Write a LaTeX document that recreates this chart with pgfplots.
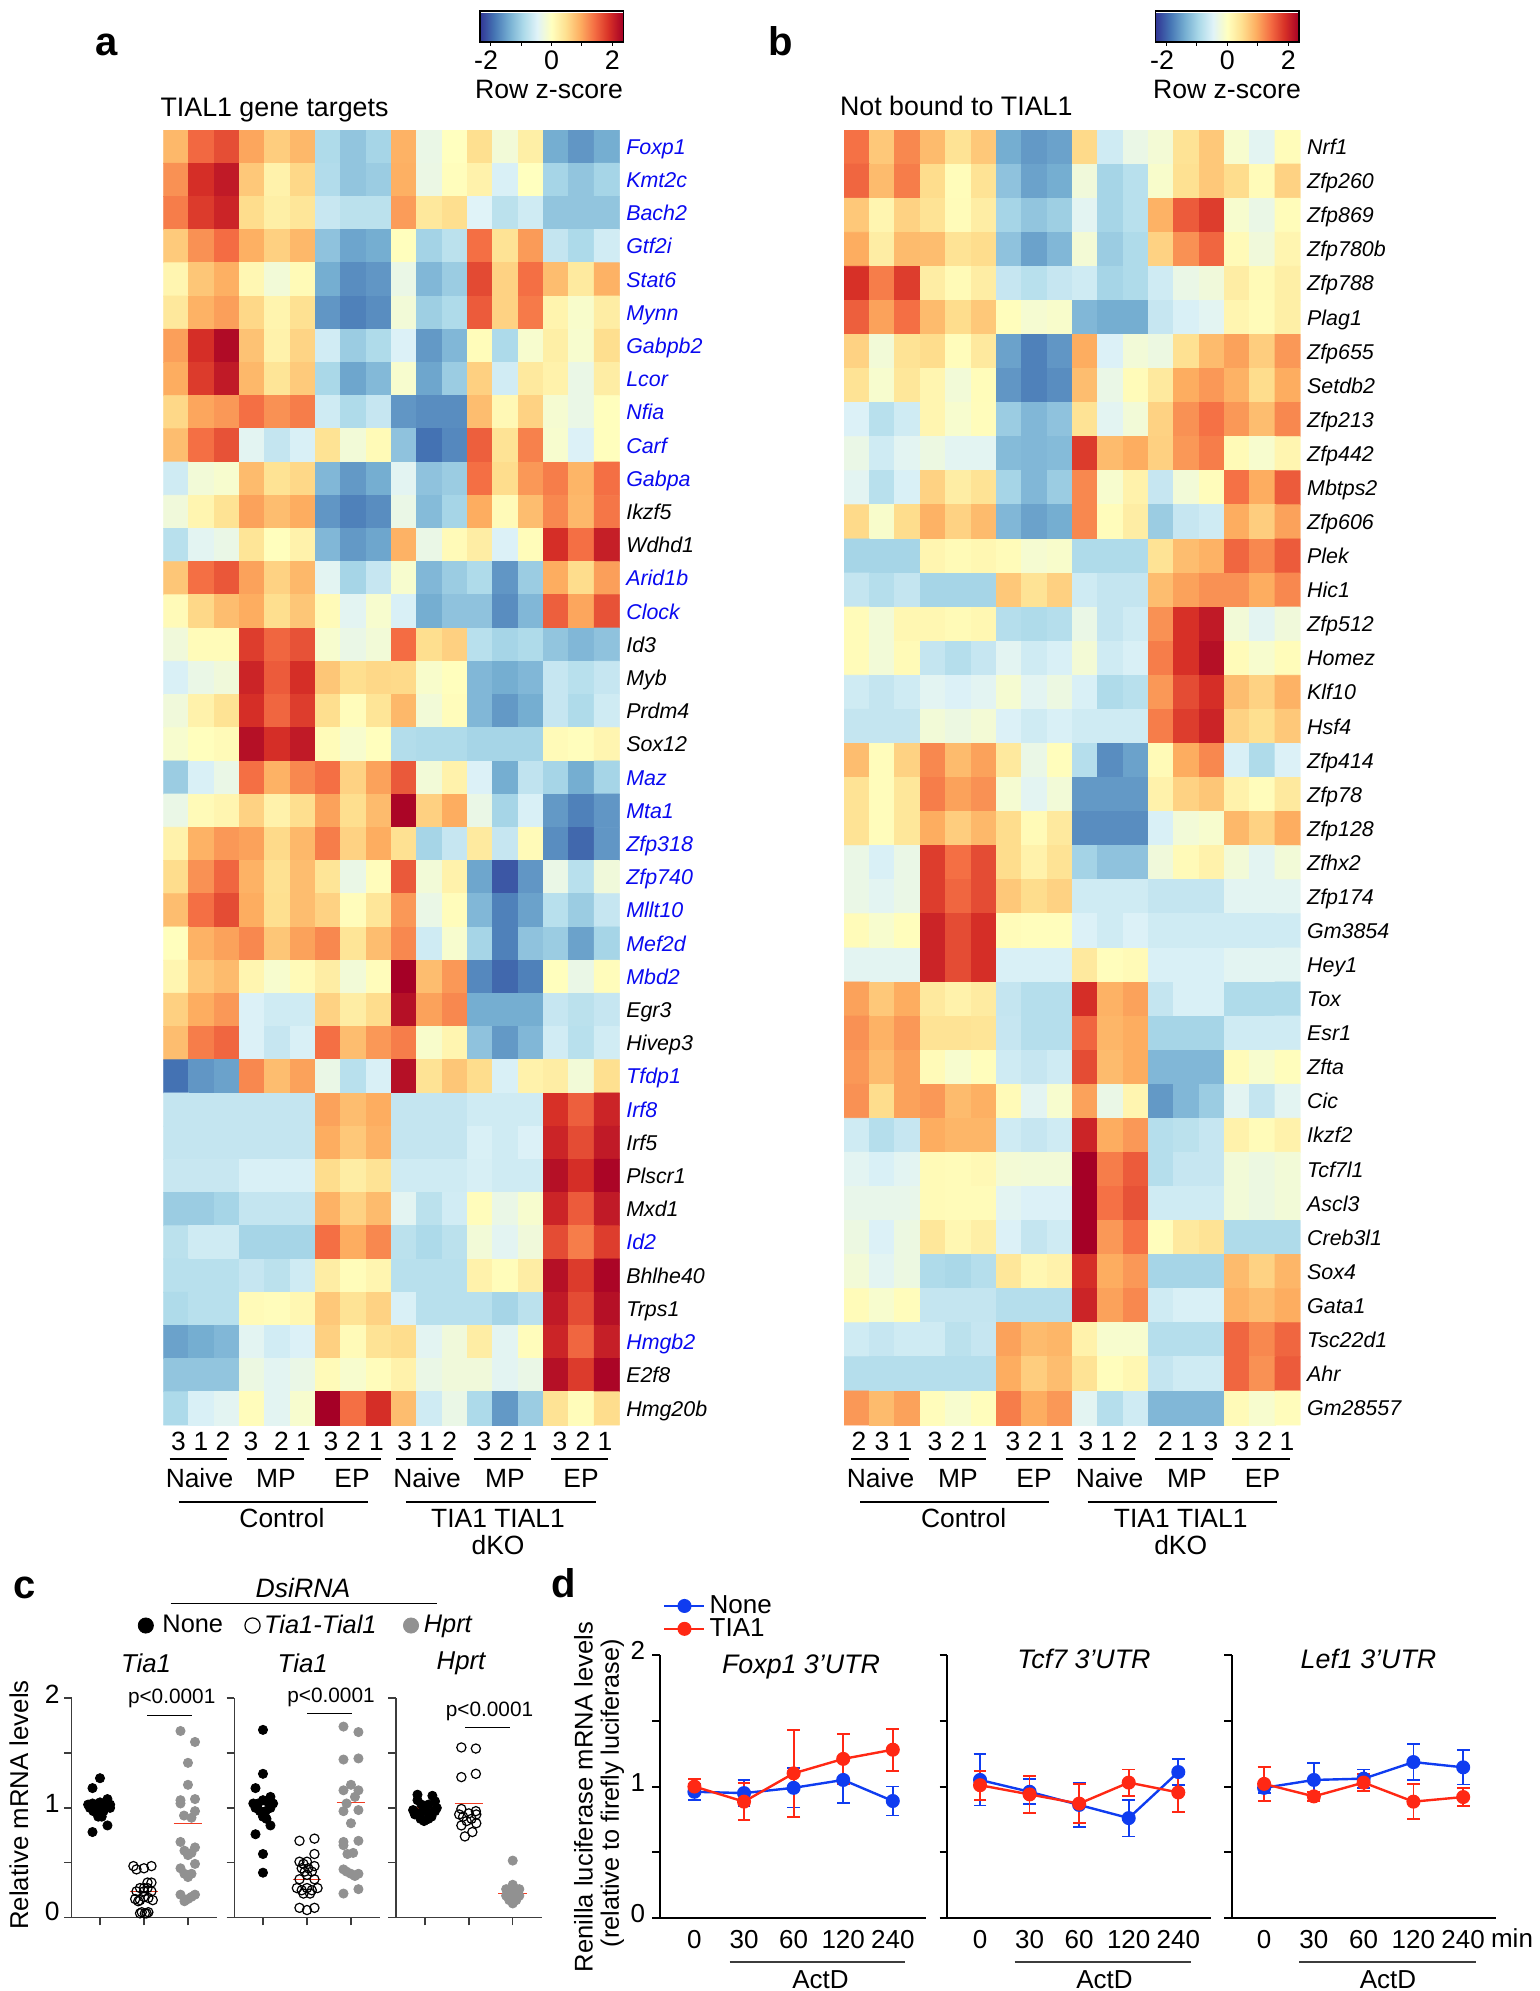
\documentclass[border=0pt]{standalone}
\usepackage{pgfplots}
\pgfplotsset{compat=1.18}
\usepackage{fontspec}
\setmainfont{Liberation Sans}
\definecolor{genblue}{RGB}{10,10,240}
\definecolor{axgray}{RGB}{60,60,60}
\definecolor{dotgray}{RGB}{145,145,145}
\definecolor{meanred}{RGB}{240,60,35}
\definecolor{dblue}{RGB}{15,60,240}
\definecolor{dred}{RGB}{255,40,20}
\newcommand{\B}[1]{\textcolor{genblue}{#1}}
\newcommand{\fs}[1]{\fontsize{#1}{#1}\selectfont}
\pgfplotsset{
  colormap={rdylbu}{rgb255=(49,54,149) rgb255=(69,117,180) rgb255=(116,173,209) rgb255=(171,217,233) rgb255=(224,243,248) rgb255=(255,255,191) rgb255=(254,224,144) rgb255=(253,174,97) rgb255=(244,109,67) rgb255=(215,48,39) rgb255=(165,0,38)},
  heat/.style={scale only axis, width=228.1pt, height=647.5pt, y dir=reverse,
    enlargelimits=false, xmin=-0.5, xmax=17.5, clip=true,
    colormap name=rdylbu, point meta min=-2.35, point meta max=2.35,
    axis line style={draw=none}, tick style={draw=none}, major tick length=0pt,
    xtick=\empty, yticklabel pos=right,
    yticklabel style={anchor=west, inner xsep=0pt, xshift=3.2pt, font=\fs{10.7}\itshape, text height=8pt, text depth=.4pt},
    colorbar horizontal,
    colorbar style={anchor=south west, width=71.6pt, height=15.5pt,
      scale only axis, xtick={-2,-1,0,1,2}, xticklabels={\llap{-}2,,0,,2}, xtick pos=bottom, tick align=outside,
      major tick length=2pt, tick style={draw=black, line width=.5pt},
      axis line style={draw=black, line width=.6pt},
      xticklabel style={font=\fs{13.4}, yshift=1pt}}},
  cax/.style={scale only axis, height=109.85pt, ymin=0, ymax=2, clip=false,
    axis x line=bottom, axis y line=left, axis line style={-, draw=axgray, line width=.7pt},
    tick style={draw=axgray, line width=.7pt}, tick align=outside, major tick length=3.8pt,
    ytick={0,0.5,1,1.5,2}, xtick={1,2,3}, xticklabels={,,}, yticklabels={,,,,},
    yticklabel style={font=\fs{13.2}, yshift=2pt, xshift=1.2pt}},
  dNone/.style={only marks, mark=*, mark size=2.3pt, color=black},
  dOpen/.style={only marks, mark=o, mark size=2.3pt, color=black, mark options={line width=.6pt}},
  dHprt/.style={only marks, mark=*, mark size=2.3pt, color=dotgray},
  mean/.style={color=meanred, line width=.7pt, no marks, forget plot},
  dax/.style={scale only axis, height=131.5pt, ymin=0, ymax=2, xmax=4.66, clip=false,
    axis x line=bottom, axis y line=left, axis line style={-, draw=black, line width=1pt},
    ytick={0,0.5,1,1.5,2}, yticklabels={,,,,}, xtick={0,1,2,3,4}, xticklabels={0,30,60,120,240},
    tick align=outside, major tick length=3.8pt, ytick style={draw=black, line width=1pt}, xtick style={draw=none},
    xticklabel style={font=\fs{13}, yshift=1pt}, yticklabel style={font=\fs{13}, yshift=2.2pt}},
  sNone/.style={color=dblue, line width=1.2pt, mark=*, mark size=2.9pt,
    error bars/.cd, y dir=both, y explicit, error bar style={line width=.9pt, color=dblue},
    error mark options={rotate=90, mark size=3.2pt, line width=.9pt, color=dblue}},
  sTia/.style={color=dred, line width=1.2pt, mark=*, mark size=2.9pt,
    error bars/.cd, y dir=both, y explicit, error bar style={line width=.9pt, color=dred},
    error mark options={rotate=90, mark size=3.2pt, line width=.9pt, color=dred}},
}
\begin{document}
\begin{tikzpicture}[x=0.5pt,y=-0.5pt]
\useasboundingbox (0,0) rectangle (1539,1991);
\coordinate (hA) at (163.3,130);
\coordinate (hB) at (844.2,130);
\coordinate (c1) at (71.7,1917.7);
\coordinate (c2) at (234.3,1917.7);
\coordinate (c3) at (396,1917.7);
\coordinate (d1) at (659.7,1918);
\coordinate (d2) at (947.3,1918);
\coordinate (d3) at (1231.6,1918);
% ---------- heatmap a
\begin{axis}[heat, at={(hA)}, anchor=north west, ymin=-0.5, ymax=38.5,
  colorbar style={at={(0.694,1.068)}},
  ytick={0,...,38},
  yticklabels={\B{Foxp1},\B{Kmt2c},\B{Bach2},\B{Gtf2i},\B{Stat6},\B{Mynn},\B{Gabpb2},\B{Lcor},\B{Nfia},\B{Carf},\B{Gabpa},Ikzf5,Wdhd1,\B{Arid1b},\B{Clock},Id3,Myb,Prdm4,Sox12,\B{Maz},\B{Mta1},\B{Zfp318},\B{Zfp740},\B{Mllt10},\B{Mef2d},\B{Mbd2},Egr3,Hivep3,\B{Tfdp1},\B{Irf8},Irf5,Plscr1,Mxd1,\B{Id2},Bhlhe40,Trps1,\B{Hmgb2},E2f8,Hmg20b}]
\addplot[matrix plot*, mesh/cols=18, point meta=explicit]
 table[row sep=crcr, x expr={\coordindex-18*floor((\coordindex+0.5)/18)}, y expr={floor((\coordindex+0.5)/18)}, meta=z] {
z\\
.85\\1.45\\1.65\\1.0\\.65\\.85\\-.9\\-1.15\\-.98\\.9\\-.32\\.0\\.47\\-.2\\.25\\-1.4\\-1.6\\-1.4\\
1.15\\1.9\\2.1\\.7\\.2\\.55\\-.88\\-1.15\\-1.08\\.92\\-.3\\.03\\.2\\-.53\\0\\-.98\\-1.15\\-.98\\
1.3\\1.8\\2.0\\.5\\.25\\.38\\-.68\\-.8\\-.8\\1.07\\.35\\.48\\-.47\\-.8\\-.62\\-1.15\\-1.15\\-1.15\\
.68\\1.15\\1.42\\.92\\.62\\.85\\-1.18\\-1.48\\-1.4\\.02\\-1.0\\-.8\\1.4\\.42\\1.08\\-.72\\-.92\\-.6\\
.15\\.72\\.92\\.12\\-.2\\.08\\-1.4\\-1.68\\-1.6\\-.32\\-1.3\\-1.08\\1.68\\.6\\1.4\\.8\\.32\\.9\\
.35\\.9\\1.05\\.55\\.17\\.45\\-1.6\\-1.78\\-1.68\\-.2\\-1.05\\-.9\\1.55\\.6\\1.32\\.17\\-.1\\.27\\
1.05\\1.9\\2.25\\.75\\.2\\.58\\-.6\\-1.08\\-.9\\-.5\\-1.58\\-1.3\\.05\\-.92\\-.12\\.25\\-.12\\.48\\
.95\\1.8\\2.1\\.85\\.4\\.68\\-.95\\-1.47\\-1.28\\-.12\\-1.47\\-1.08\\.62\\-.6\\.33\\.2\\-.32\\.27\\
.55\\1.0\\1.1\\1.4\\1.15\\1.3\\-.62\\-.9\\-.7\\-1.6\\-1.68\\-1.68\\.8\\.1\\.6\\-.15\\-.32\\.02\\
.8\\1.4\\1.62\\-.42\\-.72\\-.53\\.43\\-.2\\.08\\-1.18\\-1.9\\-1.72\\1.52\\.42\\1.27\\-.12\\-.5\\.02\\
-.62\\-.2\\-.12\\.82\\.43\\.55\\-1.3\\-1.58\\-1.4\\-.42\\-1.18\\-1.08\\1.4\\.5\\1.1\\1.3\\.88\\1.4\\
-.22\\.15\\.43\\1.03\\.8\\.95\\-1.6\\-1.78\\-1.68\\-.32\\-1.26\\-.98\\.95\\.07\\.8\\1.22\\.85\\1.35\\
-.82\\-.42\\-.32\\.4\\.02\\.2\\-1.3\\-1.58\\-1.47\\.9\\-.32\\.07\\.27\\-.5\\.05\\1.9\\1.4\\2.05\\
.72\\1.4\\1.58\\1.03\\.6\\.85\\-.42\\-.98\\-.7\\-.12\\-1.3\\-1.08\\-.9\\-1.6\\-1.08\\.95\\.5\\1.05\\
.07\\.55\\.8\\.95\\.48\\.72\\.07\\-.42\\-.12\\-.53\\-1.4\\-1.18\\-1.18\\-1.68\\-1.3\\1.52\\1.0\\1.62\\
-.22\\.06\\.06\\1.78\\1.47\\1.62\\-.12\\-.32\\-.2\\1.42\\.48\\.62\\-.82\\-.98\\-.9\\-1.15\\-1.3\\-1.18\\
-.53\\-.32\\-.22\\2.0\\1.55\\1.9\\.72\\.48\\.55\\.53\\-.1\\.02\\-1.3\\-1.4\\-1.3\\-.7\\-.82\\-.7\\
-.22\\.2\\.43\\1.9\\1.47\\1.78\\.48\\.04\\.4\\.85\\-.2\\.04\\-1.3\\-1.58\\-1.4\\-.7\\-.9\\-.62\\
-.12\\.02\\.07\\2.2\\1.9\\2.1\\.06\\-.12\\.02\\-.87\\-.9\\-.9\\-.98\\-.98\\-.98\\.07\\.03\\.15\\
-1.08\\-.53\\-.32\\1.4\\.9\\1.22\\1.4\\.6\\1.03\\1.57\\-.2\\.2\\-.5\\-1.4\\-.75\\-.98\\-1.4\\-.98\\
-.32\\.07\\.15\\.6\\.2\\.48\\1.03\\.48\\.82\\2.3\\.62\\.95\\-.32\\-.98\\-.53\\-1.58\\-1.78\\-1.6\\
.2\\.9\\1.1\\1.03\\.53\\.85\\1.3\\.6\\.95\\.45\\-.98\\-.7\\.32\\-.7\\.07\\-1.68\\-1.98\\-1.6\\
.5\\1.15\\1.47\\.9\\.45\\.8\\.4\\-.32\\.04\\1.57\\-.2\\.2\\-1.47\\-2.1\\-1.6\\-.32\\-.82\\-.22\\
.8\\1.4\\1.67\\.95\\.47\\.8\\.6\\.04\\.38\\1.1\\-.32\\.04\\-1.3\\-1.78\\-1.5\\-.82\\-1.08\\-.7\\
.02\\.9\\1.03\\1.22\\.72\\1.03\\1.22\\.4\\.8\\1.22\\-.62\\-.12\\-.98\\-1.78\\-1.18\\-1.08\\-1.5\\-.98\\
.15\\.7\\.82\\.15\\-.12\\.07\\.27\\-.2\\.04\\2.35\\.8\\1.1\\-1.72\\-1.98\\-1.78\\.02\\-.32\\.04\\
.62\\.95\\1.1\\-.5\\-.62\\-.62\\.6\\.27\\.5\\2.2\\1.03\\1.22\\-1.4\\-1.4\\-1.4\\-.7\\-.8\\-.7\\
.8\\1.3\\1.47\\-.5\\-.7\\-.53\\1.4\\.8\\1.1\\1.3\\-.1\\.15\\-1.18\\-1.58\\-1.3\\-.6\\-.82\\-.6\\
-1.9\\-1.6\\-1.5\\1.22\\.8\\1.03\\-.32\\-.82\\-.53\\2.2\\.42\\.72\\.5\\-.53\\.2\\.27\\-.2\\.47\\
-.72\\-.72\\-.72\\-.72\\-.72\\-.72\\1.03\\.8\\.95\\-.72\\-.72\\-.72\\-.62\\-.62\\-.62\\1.88\\1.52\\2.0\\
-.72\\-.72\\-.72\\-.72\\-.72\\-.72\\.95\\.7\\.9\\-.72\\-.72\\-.72\\-.53\\-.62\\-.5\\2.0\\1.67\\2.1\\
-.68\\-.68\\-.68\\-.53\\-.53\\-.53\\.5\\.27\\.42\\-.62\\-.62\\-.62\\-.55\\-.62\\-.62\\2.2\\1.9\\2.3\\
-1.08\\-1.08\\-.98\\-.72\\-.72\\-.72\\.9\\.6\\.82\\-.42\\-.8\\-.6\\.04\\-.32\\-.12\\2.0\\1.55\\2.1\\
-.8\\-.62\\-.62\\-.98\\-.98\\-.98\\1.4\\.95\\1.22\\-.8\\-.92\\-.8\\-.2\\-.42\\-.22\\1.67\\1.3\\1.78\\
-.82\\-.82\\-.82\\-.7\\-.8\\-.62\\.27\\.05\\.15\\-.82\\-.82\\-.82\\.2\\.05\\.27\\2.2\\1.8\\2.3\\
-.9\\-.82\\-.82\\.07\\.04\\.13\\.7\\.42\\.6\\-.53\\-.82\\-.82\\-.82\\-.98\\-.8\\2.1\\1.67\\2.2\\
-1.5\\-1.4\\-1.3\\-.42\\-.6\\-.5\\.62\\.07\\.42\\.5\\-.42\\-.22\\.27\\-.42\\.04\\2.0\\1.47\\2.05\\
-1.15\\-1.15\\-1.15\\-.28\\-.42\\-.32\\.07\\-.12\\.04\\.2\\-.32\\-.22\\-.22\\-.42\\-.32\\2.2\\1.8\\2.3\\
-.92\\-.53\\-.42\\.04\\-.42\\-.12\\2.35\\1.4\\1.9\\.8\\-.62\\-.32\\-.92\\-1.58\\-1.08\\.42\\.05\\.5\\
};
\end{axis}
% ---------- heatmap b
\begin{axis}[heat, at={(hB)}, anchor=north west, ymin=-0.5, ymax=37.5,
  colorbar style={at={(0.683,1.068)}},
  ytick={0,...,37},
  yticklabels={Nrf1,Zfp260,Zfp869,Zfp780b,Zfp788,Plag1,Zfp655,Setdb2,Zfp213,Zfp442,Mbtps2,Zfp606,Plek,Hic1,Zfp512,Homez,Klf10,Hsf4,Zfp414,Zfp78,Zfp128,Zfhx2,Zfp174,Gm3854,Hey1,Tox,Esr1,Zfta,Cic,Ikzf2,Tcf7l1,Ascl3,Creb3l1,Sox4,Gata1,Tsc22d1,Ahr,Gm28557}]
\addplot[matrix plot*, mesh/cols=18, point meta=explicit]
 table[row sep=crcr, x expr={\coordindex-18*floor((\coordindex+0.5)/18)}, y expr={floor((\coordindex+0.5)/18)}, meta=z] {
z\\
1.38\\.7\\1.22\\.82\\.42\\.7\\-1.4\\-1.58\\-1.5\\.53\\-.62\\-.32\\-.18\\.42\\.7\\-.12\\-.42\\.05\\
1.47\\.82\\1.3\\.5\\.05\\.42\\-1.18\\-1.5\\-1.4\\-.22\\-.98\\-.82\\-.1\\.45\\.7\\.5\\.06\\.6\\
.7\\.15\\.6\\.42\\.06\\.27\\-.98\\-1.15\\-1.05\\-.42\\-.98\\-.82\\.9\\1.55\\1.78\\-.12\\-.32\\.05\\
.95\\.27\\.82\\.8\\.42\\.5\\-1.18\\-1.5\\-1.3\\-.18\\-1.08\\-.9\\.6\\1.15\\1.47\\.07\\-.22\\.15\\
1.88\\1.3\\1.78\\.27\\.08\\.27\\-.7\\-.82\\-.7\\-.62\\-.98\\-.9\\-.62\\-.32\\-.22\\.27\\.08\\.25\\
1.52\\1.03\\1.4\\.82\\.5\\.7\\.03\\-.15\\-.1\\-1.3\\-1.4\\-1.4\\-.7\\-.53\\-.42\\.15\\.06\\.25\\
.6\\-.2\\.42\\.5\\.04\\.33\\-1.5\\-1.78\\-1.6\\.95\\-.5\\-.2\\-.28\\.45\\.82\\1.03\\.65\\1.1\\
.42\\-.12\\.37\\.15\\-.2\\.05\\-1.6\\-1.78\\-1.68\\.8\\-.32\\.06\\.33\\.95\\1.1\\.9\\.5\\.95\\
-.5\\-.82\\-.62\\.15\\-.12\\.04\\-1.08\\-1.3\\-1.18\\.42\\-.42\\-.2\\.6\\1.15\\1.38\\1.1\\.8\\1.22\\
-.32\\-.62\\-.42\\-.28\\-.42\\-.42\\-1.26\\-1.3\\-1.26\\1.8\\.82\\.95\\.62\\1.1\\1.3\\.08\\-.12\\.15\\
-.42\\-.82\\-.53\\.6\\.27\\.42\\-.98\\-1.3\\-1.08\\1.22\\-.12\\.2\\-.7\\-.2\\.04\\1.38\\.95\\1.55\\
.53\\-.1\\.5\\.9\\.6\\.82\\-1.3\\-1.5\\-1.4\\1.22\\.04\\.27\\-1.08\\-.7\\-.62\\.95\\.65\\1.03\\
-.98\\-.98\\-.98\\.15\\.08\\.13\\.06\\-.15\\-.1\\-.9\\-.9\\-.9\\.42\\.8\\.9\\1.47\\1.22\\1.55\\
-.72\\-.85\\-.72\\-.98\\-.98\\-.98\\.7\\.42\\.62\\-.62\\-.72\\-.72\\.8\\1.03\\1.15\\1.15\\.95\\1.22\\
.06\\-.2\\.13\\.13\\.08\\.13\\-.85\\-.9\\-.85\\-.32\\-.72\\-.62\\1.15\\1.88\\2.1\\-.2\\-.42\\-.22\\
.06\\-.2\\.08\\-.72\\-.85\\-.7\\-.42\\-.62\\-.53\\-.18\\-.62\\-.53\\1.3\\1.88\\2.2\\.06\\-.12\\.05\\
-.62\\-.72\\-.62\\-.42\\-.5\\-.42\\-.15\\-.42\\-.28\\-.53\\-.9\\-.82\\1.1\\1.67\\1.9\\.8\\.6\\.9\\
-.72\\-.72\\-.72\\-.2\\-.28\\-.18\\-.5\\-.62\\-.53\\-.62\\-.62\\-.62\\1.3\\1.78\\2.0\\.6\\.47\\.7\\
.8\\.04\\.6\\1.22\\.82\\1.03\\.33\\-.32\\.03\\-.85\\-1.68\\-1.5\\.08\\.95\\1.22\\-.53\\-.9\\-.5\\
.42\\.04\\.37\\1.3\\1.03\\1.15\\-.15\\-.42\\-.2\\-1.58\\-1.58\\-1.58\\.2\\.6\\.72\\.2\\.04\\.33\\
.42\\.04\\.37\\.95\\.65\\.85\\.5\\.08\\.33\\-1.68\\-1.68\\-1.68\\-.53\\-.2\\-.12\\.85\\.6\\.95\\
-.32\\-.53\\-.32\\1.78\\1.4\\1.67\\.5\\.2\\.42\\-1.0\\-1.18\\-1.18\\-.22\\.07\\.2\\-.2\\-.42\\-.2\\
-.32\\-.42\\-.32\\1.78\\1.47\\1.67\\.7\\.5\\.6\\-.62\\-.62\\-.62\\-.72\\-.72\\-.72\\-.42\\-.42\\-.42\\
.06\\-.12\\.03\\2.0\\1.67\\1.9\\.06\\.03\\.03\\-.5\\-.62\\-.5\\-.62\\-.62\\-.62\\-.62\\-.62\\-.62\\
-.42\\-.42\\-.42\\2.0\\1.67\\1.9\\-.53\\-.53\\-.53\\.33\\.03\\.08\\-.53\\-.53\\-.53\\-.42\\-.42\\-.42\\
1.03\\.7\\.95\\.33\\.2\\.3\\-.72\\-.85\\-.85\\1.9\\.9\\1.03\\-.72\\-.53\\-.53\\-.9\\-.9\\-.9\\
1.15\\.9\\1.1\\.42\\.42\\.4\\-.7\\-.85\\-.85\\1.47\\.87\\.95\\-.98\\-.98\\-.98\\-.62\\-.62\\-.62\\
1.1\\.82\\1.03\\.07\\-.12\\.03\\-.62\\-.7\\-.62\\1.67\\.82\\.95\\-1.3\\-1.3\\-1.3\\.06\\-.12\\.03\\
1.15\\.5\\1.03\\1.1\\.82\\.92\\.07\\-.42\\-.12\\1.03\\-.32\\.15\\-1.58\\-1.3\\-1.08\\-.42\\-.72\\-.42\\
-.62\\-.85\\-.7\\.95\\.87\\.87\\-.62\\-.7\\-.62\\2.0\\.95\\1.1\\-.85\\-.8\\-.7\\.2\\.06\\.2\\
-.42\\-.53\\-.42\\.08\\.06\\.1\\-.18\\-.2\\-.2\\2.35\\1.3\\1.55\\-.85\\-.7\\-.7\\-.2\\-.28\\-.2\\
-.35\\-.35\\-.35\\.08\\.06\\.06\\-.42\\-.5\\-.5\\2.35\\1.38\\1.62\\-.62\\-.62\\-.62\\-.2\\-.28\\-.2\\
-.28\\-.5\\-.28\\.37\\.13\\.25\\-.5\\-.72\\-.62\\2.35\\1.1\\1.38\\.03\\.33\\.42\\-.9\\-.9\\-.9\\
-.2\\-.42\\-.28\\-.9\\-.95\\-.85\\.37\\.13\\.2\\1.9\\.95\\1.1\\-.98\\-.98\\-.98\\.82\\.6\\.87\\
.06\\-.12\\.04\\-.72\\-.72\\-.72\\-.85\\-.85\\-.85\\2.0\\1.03\\1.22\\-.62\\-.53\\-.53\\.9\\.8\\.95\\
-.62\\-.7\\-.62\\-.62\\-.8\\-.7\\1.03\\.82\\.87\\.2\\-.12\\-.12\\-.85\\-.85\\-.85\\1.47\\1.22\\1.47\\
-.85\\-.85\\-.85\\-.85\\-.85\\-.85\\.95\\.65\\.8\\.42\\.03\\.13\\-.72\\-.62\\-.62\\1.47\\1.15\\1.55\\
1.1\\.82\\1.03\\.04\\-.12\\.03\\1.3\\.95\\1.1\\-.42\\-.85\\-.62\\-1.3\\-1.3\\-1.3\\.07\\-.12\\.04\\
};
\end{axis}
% ---------- heatmap texts
\node[font=\fs{13.4},anchor=west] at (153.5,110) {TIAL1 gene targets};
\node[font=\fs{13.4},anchor=west] at (833,106) {Not bound to TIAL1};
\node[font=\fs{13.3}] at (549,89) {Row z-score};
\node[font=\fs{13.3}] at (1227,89) {Row z-score};
\node[font=\bfseries\fs{20}] at (107,45) {a};
\node[font=\bfseries\fs{20}] at (781,41) {b};
\node[font=\bfseries\fs{20}] at (25,1588) {c};
\node[font=\bfseries\fs{20}] at (564,1583) {d};
\foreach \x/\t in {178.5/3,201/1,223/2,251/3,281.5/2,303.5/1,331/3,353.5/2,376.5/1,404.7/3,426.6/1,449.6/2,484/3,507/2,530/1,560/3,583/2,605/1,
  859/2,882/3,905/1,935/3,958/2,980/1,1013/3,1035/2,1057/1,1086/3,1108/1,1130/2,1165.4/2,1188/1,1211/3,1242/3,1265/2,1287/1}
  \node[font=\fs{13.2}] at (\x,1441) {\t};
\foreach \a/\b in {169.7/226.7,246.8/304,324.6/381,396/453,473.7/530.7,551/607.8,851/908.5,928.6/985.6,1005.7/1063,1077.7/1135,1155/1212.5,1232/1289.6}
  \draw[line width=.55pt] (\a,1459) -- (\b,1459);
\foreach \x/\t in {199.5/Naive,276/MP,352/EP,427/Naive,505/MP,581/EP,880.5/Naive,958/MP,1034/EP,1109.5/Naive,1187/MP,1262.5/EP}
  \node[font=\fs{13.2}] at (\x,1478) {\t};
\foreach \a/\b in {178.5/367.8,405.8/595.7,860/1049,1087.6/1277}
  \draw[line width=.55pt] (\a,1502) -- (\b,1502);
\node[font=\fs{13.2}] at (282,1518) {Control};
\node[font=\fs{13.2}] at (498,1518) {TIA1 TIAL1};
\node[font=\fs{13.2}] at (498,1545) {dKO};
\node[font=\fs{13.2}] at (963.7,1518) {Control};
\node[font=\fs{13.2}] at (1180.7,1518) {TIA1 TIAL1};
\node[font=\fs{13.2}] at (1180.7,1545) {dKO};
% ---------- panel c
\begin{axis}[cax, at={(c1)}, anchor=south west, width=72.65pt, xmin=0.357, xmax=3.66,
  yticklabels={\raisebox{2pt}{0},,1,,2},
  legend columns=3, legend cell align=left,
  legend style={at={(0.455,1.33)}, anchor=west, draw=none, fill=none, font=\fs{12.7}, inner sep=0pt},
  legend image code/.code={\draw[#1] plot coordinates {(3.8pt,0pt)};}]
\addplot[dNone, legend image post style={mark size=3.8pt}] coordinates {(1,1.27)(.83,1.18)(1.17,1.08)(.73,1.03)(.83,1.04)(.92,1.03)(1,1.05)(1.23,1.03)(.77,1.0)(.89,1.0)(1,1.0)(1.11,1.0)(1.23,1.0)(.85,.97)(.96,.95)(1.08,.97)(.96,.92)(1.04,.92)(1.17,.84)(.83,.78)};
\addlegendentry{\hspace{2.5pt}None\hspace{8.9pt}\mbox{}}
\addplot[dOpen, legend image post style={mark size=3.8pt}] coordinates {(1.76,.47)(1.83,.44)(2,.45)(2.17,.47)(2.08,.32)(2.17,.32)(1.91,.27)(2,.27)(2.08,.27)(1.83,.24)(2,.24)(2.17,.24)(1.8,.17)(1.91,.16)(2,.19)(2.1,.18)(2.2,.16)(1.87,.15)(1.95,.05)(2.02,.04)(2.1,.05)(1.91,.04)(2.06,.04)};
\addlegendentry{\itshape Tia1-Tial1\hspace{11.4pt}\mbox{}}
\addplot[dHprt, legend image post style={mark size=3.8pt}] coordinates {(2.83,1.70)(3.16,1.60)(3,1.41)(3,1.21)(2.83,1.07)(3.16,1.08)(2.83,1.04)(3.16,.97)(3.08,.91)(2.91,.93)(2.83,.69)(3.16,.64)(2.92,.61)(3.08,.59)(3,.57)(3.16,.49)(2.83,.45)(2.92,.40)(3.08,.40)(3,.37)(2.83,.21)(3.16,.21)(2.92,.15)(3.08,.19)(3,.17)};
\addlegendentry{\hspace{.6pt}\itshape Hprt}
\addplot[mean] coordinates {(.675,1.0)(1.325,1.0)};
\addplot[mean] coordinates {(1.675,.237)(2.325,.237)};
\addplot[mean] coordinates {(2.675,.86)(3.325,.86)};
\end{axis}
\begin{axis}[cax, at={(c2)}, anchor=south west, width=72.85pt, xmin=0.348, xmax=3.66]
\addplot[dNone] coordinates {(1,1.71)(1,1.31)(.83,1.18)(1.17,1.10)(.78,1.04)(.89,1.04)(1,1.07)(1.08,1.06)(1.23,1.04)(.83,1.0)(1.17,1.0)(.93,.97)(1.06,.97)(1,.92)(1.08,.90)(1.17,.84)(.83,.76)(1,.58)(1,.41)};
\addplot[dOpen] coordinates {(1.83,.70)(2.17,.72)(2.17,.58)(1.83,.51)(1.92,.49)(2,.51)(2.17,.47)(1.88,.45)(2.03,.45)(1.95,.42)(2.11,.42)(2,.39)(1.83,.35)(2.17,.35)(1.77,.27)(1.88,.25)(2,.27)(2.11,.25)(2.24,.27)(1.92,.22)(2.07,.22)(1.83,.09)(2,.07)(2.17,.09)};
\addplot[dHprt] coordinates {(2.83,1.74)(3.17,1.69)(2.83,1.44)(3.17,1.45)(3,1.21)(2.83,1.16)(3.17,1.16)(3.09,1.10)(2.9,1.04)(3.17,.98)(2.83,.97)(3,.86)(2.83,.69)(3.17,.70)(2.83,.66)(2.92,.58)(3.05,.59)(2.83,.44)(3.17,.40)(3,.40)(2.9,.42)(3.09,.38)(2.83,.22)(3.17,.26)};
\addplot[mean] coordinates {(.675,1.05)(1.325,1.05)};
\addplot[mean] coordinates {(1.675,.35)(2.325,.35)};
\addplot[mean] coordinates {(2.675,1.05)(3.325,1.05)};
\end{axis}
\begin{axis}[cax, at={(c3)}, anchor=south west, width=72.85pt, xmin=0.341, xmax=3.66]
\addplot[dNone] coordinates {(.83,1.12)(1.17,1.11)(.83,1.07)(1.23,1.06)(.92,1.03)(1.08,1.03)(.77,.96)(.89,.95)(1,.97)(1.11,.95)(1.23,.97)(.77,.94)(.9,.90)(1.08,.90)(.98,.88)(1.15,.92)(.73,.98)(1.27,1.0)};
\addplot[dOpen] coordinates {(1.83,1.55)(2.16,1.54)(2.16,1.31)(1.83,1.28)(1.83,.99)(2.16,.97)(1.78,.94)(2,.95)(2.17,.94)(1.87,.92)(2.06,.90)(1.95,.88)(2.17,.86)(1.83,.84)(2.08,.78)(1.91,.74)};
\addplot[dHprt] coordinates {(3,.52)(3,.30)(2.85,.26)(3.15,.26)(2.9,.22)(3,.24)(3.1,.22)(2.85,.2)(3.15,.2)(2.92,.16)(3.08,.16)(3,.13)(3,.18)};
\addplot[mean] coordinates {(.675,1.0)(1.325,1.0)};
\addplot[mean] coordinates {(1.675,1.04)(2.325,1.04)};
\addplot[mean] coordinates {(2.675,.22)(3.325,.22)};
\end{axis}
\node[font=\fs{13.3}\itshape] at (303,1587.7) {DsiRNA};
\draw[line width=.55pt] (170.7,1603.7) -- (436.7,1603.7);
\node[font=\fs{12.9}\itshape] at (146,1663) {Tia1};
\node[font=\fs{12.9}\itshape] at (302.7,1663) {Tia1};
\node[font=\fs{12.9}\itshape] at (461,1663) {Hprt};
\node[font=\fs{12.9},rotate=90] at (19,1805) {Relative mRNA levels};
\node[font=\fs{10.4}] at (171.7,1698.7) {p<0.0001};
\draw[line width=.55pt] (147,1715.3) -- (192,1715.3);
\node[font=\fs{10.4}] at (331,1697.3) {p<0.0001};
\draw[line width=.55pt] (307,1713.7) -- (352,1713.7);
\node[font=\fs{10.4}] at (489.5,1711.7) {p<0.0001};
\draw[line width=.55pt] (465.3,1727.3) -- (510.3,1727.3);
% ---------- panel d
\begin{axis}[dax, at={(d1)}, anchor=south west, width=132.9pt, xmin=-0.70,
  yticklabels={0,,1,,2},
  legend cell align=left,
  legend style={at={(0.012,1.143)}, anchor=west, draw=none, fill=none, font=\fs{13}, inner sep=0pt, row sep=-3pt},
  legend image code/.code={\draw[mark repeat=2,mark phase=2,#1] plot coordinates {(0pt,0pt)(10pt,0pt)(20pt,0pt)};}]
\addplot[sNone] coordinates {(0,.96)+-(0,.06) (1,.95)+-(0,.10) (2,.99)+-(0,.15) (3,1.05)+-(0,.175) (4,.89)+-(0,.11)};
\addlegendentry{None}
\addplot[sTia] coordinates {(0,1.0)+-(0,.06) (1,.885)+-(0,.14) (2,1.10)+-(0,.33) (3,1.21)+-(0,.19) (4,1.28)+-(0,.16)};
\addlegendentry{TIA1}
\end{axis}
\begin{axis}[dax, at={(d2)}, anchor=south west, width=131.85pt, xmin=-0.66]
\addplot[sNone] coordinates {(0,1.05)+-(0,.195) (1,.96)+-(0,.095) (2,.86)+-(0,.17) (3,.76)+-(0,.14) (4,1.11)+-(0,.10)};
\addplot[sTia] coordinates {(0,1.01)+-(0,.11) (1,.94)+-(0,.14) (2,.87)+-(0,.15) (3,1.03)+-(0,.10) (4,.955)+-(0,.15)};
\end{axis}
\begin{axis}[dax, at={(d3)}, anchor=south west, width=132.2pt, xmin=-0.653]
\addplot[sNone] coordinates {(0,.99)+-(0,.04) (1,1.05)+-(0,.13) (2,1.06)+-(0,.07) (3,1.186)+-(0,.135) (4,1.146)+-(0,.13)};
\addplot[sTia] coordinates {(0,1.02)+-(0,.13) (1,.925)+-(0,.035) (2,1.03)+-(0,.065) (3,.885)+-(0,.135) (4,.92)+-(0,.07)};
\end{axis}
\node[font=\fs{13.4}\itshape] at (801,1666.7) {Foxp1 3’UTR};
\node[font=\fs{13.4}\itshape] at (1084,1659) {Tcf7 3’UTR};
\node[font=\fs{13.4}\itshape] at (1368.5,1659) {Lef1 3’UTR};
\node[font=\fs{12.8},rotate=90] at (583.5,1797) {Renilla luciferase mRNA levels};
\node[font=\fs{12.6},rotate=90] at (612.4,1793) {(relative to firefly luciferase)};
\node[font=\fs{13},anchor=west] at (1484,1938) {min};
\foreach \a/\b in {729.5/905,1014.5/1191,1299/1475.6}
  \draw[line width=1pt,color=axgray] (\a,1961.7) -- (\b,1961.7);
\node[font=\fs{13}] at (820.5,1980) {ActD};
\node[font=\fs{13}] at (1104.5,1980) {ActD};
\node[font=\fs{13}] at (1388,1980) {ActD};
\end{tikzpicture}
\end{document}
